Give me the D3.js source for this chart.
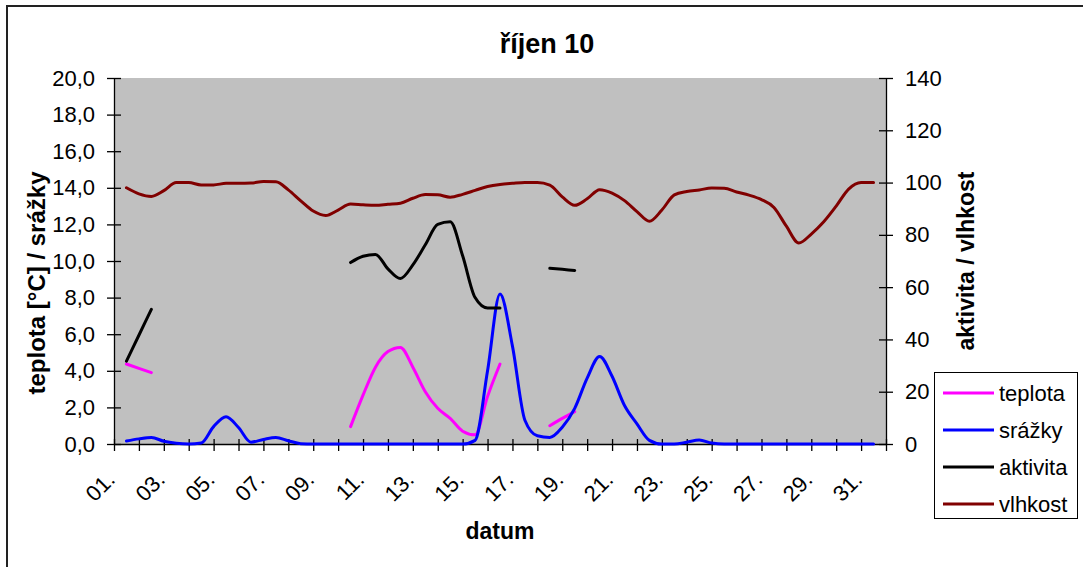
<!DOCTYPE html>
<html>
<head>
<meta charset="utf-8">
<script src="https://cdn.jsdelivr.net/npm/d3@7"></script>
<style>
  body { margin: 0; background: #fff; }
  svg { display: block; font-family: Arial, "Liberation Sans", sans-serif; }
</style>
</head>
<body>
<svg id="chart" width="1083" height="567"></svg>
<script>
// values sampled every half day, from day 1 to day 31 (null = no measurement)
const teplota = [4.37, 4.13, 3.90, null, null, null, null, null, null, null,
  null, null, null, null, null, null, null, null, 0.95, 2.67,
  4.20, 5.05, 5.28, 4.20, 2.86, 1.95, 1.40, 0.70, 0.50, 2.60,
  4.37, null, null, null, 1.00, 1.40, 1.77, null, null, null,
  null, null, null, null, null, null, null, null, null, null,
  null, null, null, null, null, null, null, null, null, null, null];

const srazky = [0.16, 0.28, 0.36, 0.15, 0.04, 0, 0.05, 0.95, 1.49, 0.90,
  0.10, 0.25, 0.36, 0.18, 0.02, 0, 0, 0, 0, 0,
  0, 0, 0, 0, 0, 0, 0, 0, 0.20, 4.00,
  8.20, 5.35, 1.30, 0.45, 0.36, 0.92, 1.95, 3.60, 4.78, 3.70,
  2.10, 1.10, 0.20, 0, 0, 0.10, 0.22, 0.05, 0, 0,
  0, 0, 0, 0, 0, 0, 0, 0, 0, 0, 0];

const aktivita = [31.7, 41.6, 51.5, null, null, null, null, null, null, null,
  null, null, null, null, null, null, null, null, 69.4, 71.8,
  72.5, 67.0, 63.3, 68.5, 76.2, 84.0, 85.0, 72.0, 56.0, 52.0,
  52.0, null, null, null, 67.2, 66.8, 66.4, null, null, null,
  null, null, null, null, null, null, null, null, null, null,
  null, null, null, null, null, null, null, null, null, null, null];

const vlhkost = [98.0, 95.7, 94.7, 96.9, 100.0, 100.0, 99.1, 99.1, 99.7, 99.7,
  99.8, 100.4, 100.3, 97.2, 93.0, 89.1, 87.4, 89.5, 91.8, 91.5,
  91.3, 91.7, 92.1, 94.0, 95.4, 95.3, 94.4, 95.5, 97.0, 98.5,
  99.3, 99.7, 100.0, 100.0, 99.0, 94.5, 91.3, 93.8, 97.3, 96.0,
  93.1, 88.9, 85.2, 89.5, 95.3, 96.6, 97.2, 97.9, 97.8, 96.4,
  95.2, 93.5, 90.5, 83.3, 76.9, 80.3, 85.0, 91.0, 97.5, 100.0, 100.0];

const dayLabels = ["01.", "03.", "05.", "07.", "09.", "11.", "13.", "15.",
  "17.", "19.", "21.", "23.", "25.", "27.", "29.", "31."];
const leftTicks = [0, 2, 4, 6, 8, 10, 12, 14, 16, 18, 20];
const rightTicks = [0, 20, 40, 60, 80, 100, 120, 140];

const series = [
  { name: "teplota", values: teplota, color: "#ff00ff", axis: "left" },
  { name: "srážky", values: srazky, color: "#0000ff", axis: "left" },
  { name: "aktivita", values: aktivita, color: "#000000", axis: "right" },
  { name: "vlhkost", values: vlhkost, color: "#800000", axis: "right" }
];

const plot = { left: 114, right: 886, top: 78, bottom: 444 };
const svg = d3.select("#chart");

// chart border
svg.append("rect")
  .attr("x", 7).attr("y", 6)
  .attr("width", 1100).attr("height", 600)
  .attr("fill", "none").attr("stroke", "#222").attr("stroke-width", 2);

const x = d3.scaleLinear().domain([0.5, 31.5]).range([plot.left, plot.right]);
const yL = d3.scaleLinear().domain([0, 20]).range([plot.bottom, plot.top]);
const yR = d3.scaleLinear().domain([0, 140]).range([plot.bottom, plot.top]);

svg.append("rect")
  .attr("x", plot.left).attr("y", plot.top)
  .attr("width", plot.right - plot.left).attr("height", plot.bottom - plot.top)
  .attr("fill", "#c0c0c0");

// title
svg.append("text")
  .attr("x", 547).attr("y", 53)
  .attr("text-anchor", "middle")
  .attr("font-size", 27).attr("font-weight", "bold")
  .text("říjen 10");

// left axis
const gL = svg.append("g")
  .attr("transform", `translate(${plot.left},0)`)
  .call(d3.axisLeft(yL).tickValues(leftTicks)
    .tickFormat(d => d.toFixed(1).replace(".", ","))
    .tickSize(7).tickSizeOuter(0).tickPadding(12));
gL.selectAll(".tick line").attr("x1", 7);

// right axis
const gR = svg.append("g")
  .attr("transform", `translate(${plot.right},0)`)
  .call(d3.axisRight(yR).tickValues(rightTicks)
    .tickSize(7).tickSizeOuter(0).tickPadding(12));
gR.selectAll(".tick line").attr("x1", -7);

// x axis (tick marks between days)
const gX = svg.append("g")
  .attr("transform", `translate(0,${plot.bottom})`)
  .call(d3.axisBottom(x).tickValues(d3.range(0.5, 31.6, 1))
    .tickFormat("").tickSize(7).tickSizeOuter(0));
gX.selectAll(".tick line").attr("y1", -5);

[gL, gR, gX].forEach(g => {
  g.attr("font-size", 22).attr("font-family", null);
  g.selectAll("path, line").attr("stroke", "#000").attr("stroke-width", 1.3);
  g.selectAll("text").attr("fill", "#000");
});

// rotated day labels
svg.append("g").selectAll("text")
  .data(dayLabels)
  .join("text")
  .attr("transform", (d, i) => `translate(${x(1 + 2 * i) - 10},481) rotate(-45)`)
  .attr("text-anchor", "end")
  .attr("font-size", 22)
  .text(d => d);

// axis titles
svg.append("text")
  .attr("transform", "translate(37,283) rotate(-90)")
  .attr("dy", "0.35em")
  .attr("text-anchor", "middle")
  .attr("font-size", 24).attr("font-weight", "bold")
  .text("teplota [°C] / srážky");

svg.append("text")
  .attr("transform", "translate(966,261) rotate(-90)")
  .attr("dy", "0.35em")
  .attr("text-anchor", "middle")
  .attr("font-size", 23).attr("font-weight", "bold")
  .text("aktivita / vlhkost");

svg.append("text")
  .attr("x", 500).attr("y", 539)
  .attr("text-anchor", "middle")
  .attr("font-size", 23).attr("font-weight", "bold")
  .text("datum");

// series lines
series.forEach(s => {
  const y = s.axis === "left" ? yL : yR;
  const line = d3.line()
    .defined(d => d != null)
    .x((d, i) => x(1 + i * 0.5))
    .y(d => y(d))
    .curve(d3.curveMonotoneX);
  svg.append("path")
    .datum(s.values)
    .attr("d", line)
    .attr("fill", "none")
    .attr("stroke", s.color)
    .attr("stroke-width", 3)
    .attr("stroke-linejoin", "round")
    .attr("stroke-linecap", "round");
});

// legend
const legend = svg.append("g");
legend.append("rect")
  .attr("x", 934.5).attr("y", 372.5)
  .attr("width", 143).attr("height", 146)
  .attr("fill", "#fff").attr("stroke", "#000");
const rows = legend.selectAll("g.row")
  .data(series)
  .join("g")
  .attr("class", "row")
  .attr("transform", (d, i) => `translate(0,${393 + i * 37})`);
rows.append("line")
  .attr("x1", 943).attr("x2", 994)
  .attr("stroke", d => d.color).attr("stroke-width", 3);
rows.append("text")
  .attr("x", 999).attr("dy", "0.35em")
  .attr("font-size", 22)
  .text(d => d.name);
</script>
</body>
</html>
